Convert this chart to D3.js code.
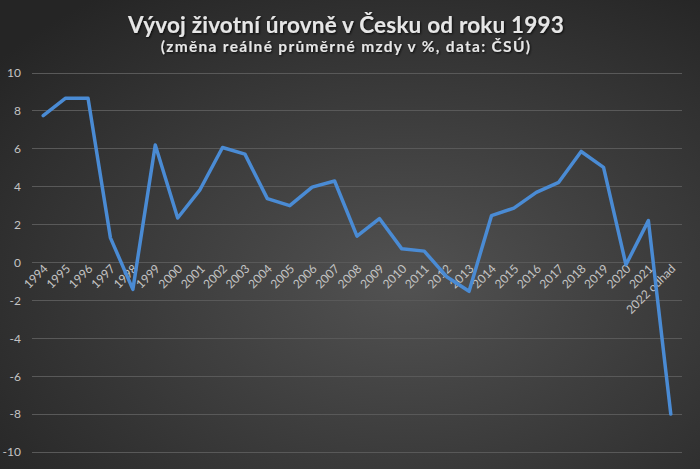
<!DOCTYPE html>
<html><head><meta charset="utf-8">
<script src="https://cdn.jsdelivr.net/npm/d3@7"></script>
<style>html,body{margin:0;padding:0;background:#2b2b2b;}svg{display:block;}</style>
</head><body>
<svg id="chart" width="700" height="469"></svg>
<script>
const categories = ["1994","1995","1996","1997","1998","1999","2000","2001","2002","2003","2004","2005","2006","2007","2008","2009","2010","2011","2012","2013","2014","2015","2016","2017","2018","2019","2020","2021","2022 odhad"];
const values = [7.75,8.67,8.67,1.3,-1.42,6.2,2.35,3.85,6.07,5.72,3.37,3.0,3.98,4.3,1.39,2.32,0.72,0.6,-0.75,-1.52,2.47,2.87,3.7,4.23,5.86,5.02,-0.12,2.21,-8.0];
const yTicks = [10,8,6,4,2,0,-2,-4,-6,-8,-10];
const title = "Vývoj životní úrovně v Česku od roku 1993";
const subtitle = "(změna reálné průměrné mzdy v %, data: ČSÚ)";

const W = 700, H = 469;
const svg = d3.select("#chart");
const defs = svg.append("defs");
const rg = defs.append("radialGradient").attr("id","bg").attr("cx","58%").attr("cy","60%").attr("r","75%");
rg.append("stop").attr("offset","0%").attr("stop-color","#525252");
rg.append("stop").attr("offset","100%").attr("stop-color","#252525");
const f = defs.append("filter").attr("id","sh").attr("x","-10%").attr("y","-30%").attr("width","120%").attr("height","160%");
f.append("feDropShadow").attr("dx",1).attr("dy",1).attr("stdDeviation",1).attr("flood-color","#000").attr("flood-opacity",0.8);

svg.append("rect").attr("width",W).attr("height",H).attr("fill","url(#bg)");

const x = d3.scalePoint().domain(categories).range([32,682]).padding(0.5);
const y = d3.scaleLinear().domain([-10,10]).range([452,73]);

// gridlines
svg.append("g").selectAll("line").data(yTicks).join("line")
  .attr("x1",32).attr("x2",682)
  .attr("y1",d=>y(d)).attr("y2",d=>y(d))
  .attr("stroke","#595959").attr("stroke-width",1).attr("shape-rendering","crispEdges");

// y axis labels
const yAxis = d3.axisLeft(y).tickValues(yTicks).tickSize(0).tickPadding(0).tickFormat(d=>String(d));
const ya = svg.append("g").attr("transform","translate(21,0)").call(yAxis);
ya.select(".domain").remove();
ya.selectAll("text").attr("fill","#c4c4c4").attr("font-family","Lato, 'Open Sans', sans-serif").attr("font-size",12).attr("text-anchor","end");

// x axis labels rotated
const xAxis = d3.axisBottom(x).tickSize(0).tickPadding(0);
const xa = svg.append("g").attr("transform",`translate(0,${y(0)})`).call(xAxis);
xa.select(".domain").remove();
xa.selectAll("text")
  .attr("fill","#c4c4c4").attr("font-family","Lato, 'Open Sans', sans-serif").attr("font-size",12)
  .attr("text-anchor","end").attr("dy",0).attr("y",0)
  .attr("transform","translate(5,7) rotate(-45)");

// line
const line = d3.line().x((d,i)=>x(categories[i])).y(d=>y(d));
svg.append("path").datum(values).attr("d",line)
  .attr("fill","none").attr("stroke","#4a8bd4").attr("stroke-width",3.5)
  .attr("stroke-linejoin","round").attr("stroke-linecap","round");

// titles
svg.append("text").attr("x",346).attr("y",33).attr("text-anchor","middle")
  .attr("font-family","Lato, 'Open Sans', sans-serif").attr("font-weight","bold").attr("font-size",22.5)
  .attr("letter-spacing",0.2)
  .attr("fill","#e6e6e6").attr("filter","url(#sh)").text(title);
svg.append("text").attr("x",346).attr("y",52).attr("text-anchor","middle")
  .attr("font-family","Lato, 'Open Sans', sans-serif").attr("font-weight","bold").attr("font-size",15.5)
  .attr("letter-spacing",1.3)
  .attr("fill","#e6e6e6").attr("filter","url(#sh)").text(subtitle);
</script>
</body></html>
